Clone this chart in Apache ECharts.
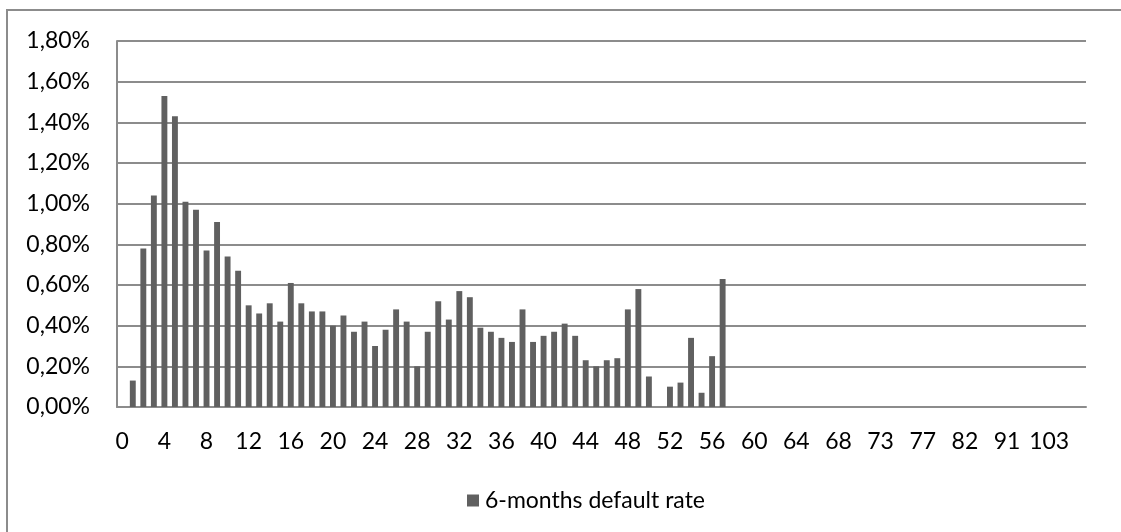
<!DOCTYPE html>
<html>
<head>
<meta charset="utf-8">
<script src="https://cdn.jsdelivr.net/npm/echarts@6/dist/echarts.min.js"></script>
<style>
html,body{margin:0;padding:0;background:#fff;}
#chart{width:1121px;height:532px;}
</style>
</head>
<body>
<div id="chart"></div>
<script>
// Category labels (x axis)
const categories = [
  '0','1','2','3','4','5','6','7','8','9','10','11','12','13','14','15','16','17','18','19',
  '20','21','22','23','24','25','26','27','28','29','30','31','32','33','34','35','36','37','38','39',
  '40','41','42','43','44','45','46','47','48','49','50','51','52','53','54','55','56','57','58','59',
  '60','61','62','63','64','65','66','67','68','69','70','71','73','74','75','76','77','78','79','80',
  '82','84','86','88','91','93','96','99','103','106','112','120'
];
// 6-months default rate, in percent
const defaultRate = [
  0, 0.13, 0.78, 1.04, 1.53, 1.43, 1.01, 0.97, 0.77, 0.91,
  0.74, 0.67, 0.50, 0.46, 0.51, 0.42, 0.61, 0.51, 0.47, 0.47,
  0.40, 0.45, 0.37, 0.42, 0.30, 0.38, 0.48, 0.42, 0.20, 0.37,
  0.52, 0.43, 0.57, 0.54, 0.39, 0.37, 0.34, 0.32, 0.48, 0.32,
  0.35, 0.37, 0.41, 0.35, 0.23, 0.20, 0.23, 0.24, 0.48, 0.58,
  0.15, 0, 0.10, 0.12, 0.34, 0.07, 0.25, 0.63, 0, 0,
  0, 0, 0, 0, 0, 0, 0, 0, 0, 0,
  0, 0, 0, 0, 0, 0, 0, 0, 0, 0,
  0, 0, 0, 0, 0, 0, 0, 0, 0, 0,
  0, 0
];
const seriesName = '6-months default rate';
const yMin = 0, yMax = 1.8, yStep = 0.2;

const FONT = 'Lato, "Open Sans", sans-serif';
const FS = 23;
const chart = echarts.init(document.getElementById('chart'));
chart.setOption({
  animation: false,
  backgroundColor: '#ffffff',
  graphic: [{
    type: 'rect',
    shape: {x: 7, y: 10, width: 1300, height: 700},
    style: {fill: 'none', stroke: '#8c8c8c', lineWidth: 2},
    silent: true, z: -10
  }],
  grid: {left: 117, right: 35, top: 41, bottom: 125, containLabel: false},
  legend: {
    data: [seriesName],
    left: 462, top: 484,
    icon: 'rect', itemWidth: 12, itemHeight: 12, itemGap: 4,
    textStyle: {fontFamily: FONT, fontSize: FS, color: '#000', padding: [0, 0, 0, 1]}
  },
  xAxis: {
    type: 'category',
    data: categories,
    boundaryGap: true,
    axisLine: {show: true, lineStyle: {color: '#8c8c8c', width: 2}},
    axisTick: {show: false},
    axisLabel: {interval: 3, margin: 23, fontFamily: FONT, fontSize: FS, color: '#000'},
    splitLine: {show: false}
  },
  yAxis: {
    type: 'value',
    min: yMin, max: yMax, interval: yStep,
    axisLine: {show: true, lineStyle: {color: '#8c8c8c', width: 2}},
    axisTick: {show: false},
    axisLabel: {
      margin: 27, fontFamily: FONT, fontSize: FS, color: '#000',
      padding: [6, 0, 0, 0],
      formatter: v => v.toFixed(2).replace('.', ',') + '%'
    },
    splitLine: {show: true, lineStyle: {color: '#8c8c8c', width: 2}}
  },
  series: [{
    name: seriesName,
    type: 'bar',
    data: defaultRate,
    barWidth: '56%',
    itemStyle: {color: '#606060'}
  }]
});
</script>
</body>
</html>
